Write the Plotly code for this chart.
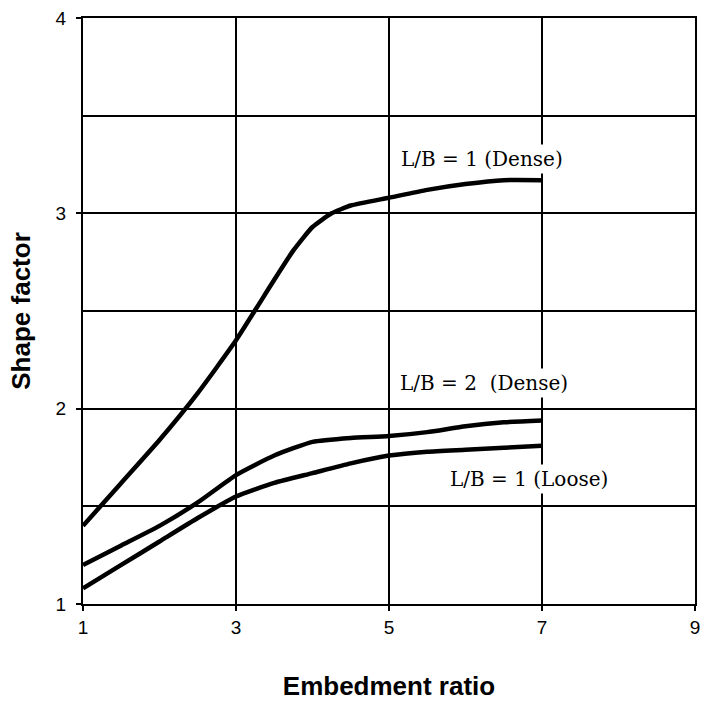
import plotly.graph_objects as go

# Data
dense1_x = [1, 1.5, 2, 2.5, 3, 3.5, 3.75, 4, 4.25, 4.5, 5, 5.5, 6, 6.5, 7]
dense1_y = [1.40, 1.62, 1.84, 2.08, 2.35, 2.66, 2.81, 2.93, 3.00, 3.04, 3.08, 3.12, 3.15, 3.17, 3.17]

dense2_x = [1, 1.5, 2, 2.5, 3, 3.5, 4, 4.5, 5, 5.5, 6, 6.5, 7]
dense2_y = [1.20, 1.30, 1.40, 1.52, 1.66, 1.76, 1.83, 1.85, 1.86, 1.88, 1.91, 1.93, 1.94]

loose1_x = [1, 1.5, 2, 2.5, 3, 3.5, 4, 4.5, 5, 5.5, 6, 6.5, 7]
loose1_y = [1.08, 1.20, 1.32, 1.44, 1.55, 1.62, 1.67, 1.72, 1.76, 1.78, 1.79, 1.80, 1.81]

series_names = ["L/B = 1 (Dense)", "L/B = 2  (Dense)", "L/B = 1 (Loose)"]
x_ticks = [1, 3, 5, 7, 9]
y_ticks = [1, 2, 3, 4]

fig = go.Figure()
for xs, ys, name in [(dense1_x, dense1_y, series_names[0]),
                     (dense2_x, dense2_y, series_names[1]),
                     (loose1_x, loose1_y, series_names[2])]:
    fig.add_trace(go.Scatter(x=xs, y=ys, mode="lines", name=name,
                             line=dict(color="black", width=4.5, shape="spline", smoothing=0.5),
                             showlegend=False))

label_pos = [(6.22, 3.28), (6.24, 2.13), (6.83, 1.64)]
for (ax, ay), txt in zip(label_pos, series_names):
    fig.add_annotation(x=ax, y=ay, text=txt, showarrow=False,
                       font=dict(family="DejaVu Serif, serif", size=20, color="black"),
                       bgcolor="white", borderpad=2)

title_font = "Liberation Sans, Arial, sans-serif"
fig.update_layout(
    width=707, height=703,
    margin=dict(l=83, r=7, t=18, b=97),
    paper_bgcolor="white", plot_bgcolor="white",
    font=dict(family="Liberation Sans, Arial, sans-serif", color="black"),
)
fig.update_xaxes(range=[1, 9], tickvals=x_ticks, ticktext=[str(v) for v in x_ticks],
                 showgrid=True, gridcolor="black", gridwidth=2,
                 showline=True, linecolor="black", linewidth=2, mirror=True,
                 ticks="outside", ticklen=5, tickcolor="black", tickwidth=2,
                 tickfont=dict(size=19),
                 zeroline=False,
                 title=dict(text="<b>Embedment ratio</b>", standoff=40,
                            font=dict(size=26, family=title_font)))
fig.update_yaxes(range=[1, 4], tickvals=y_ticks, ticktext=[str(v) for v in y_ticks],
                 showgrid=True, gridcolor="black", gridwidth=2,
                 minor=dict(dtick=0.5, showgrid=True, gridcolor="black", gridwidth=2),
                 showline=True, linecolor="black", linewidth=2, mirror=True,
                 ticks="outside", ticklen=5, tickcolor="black", tickwidth=2,
                 ticklabelstandoff=6,
                 tickfont=dict(size=19),
                 zeroline=False,
                 title=dict(text="<b>Shape factor</b>", standoff=18,
                            font=dict(size=26, family=title_font)))

fig.write_html("out.html")
